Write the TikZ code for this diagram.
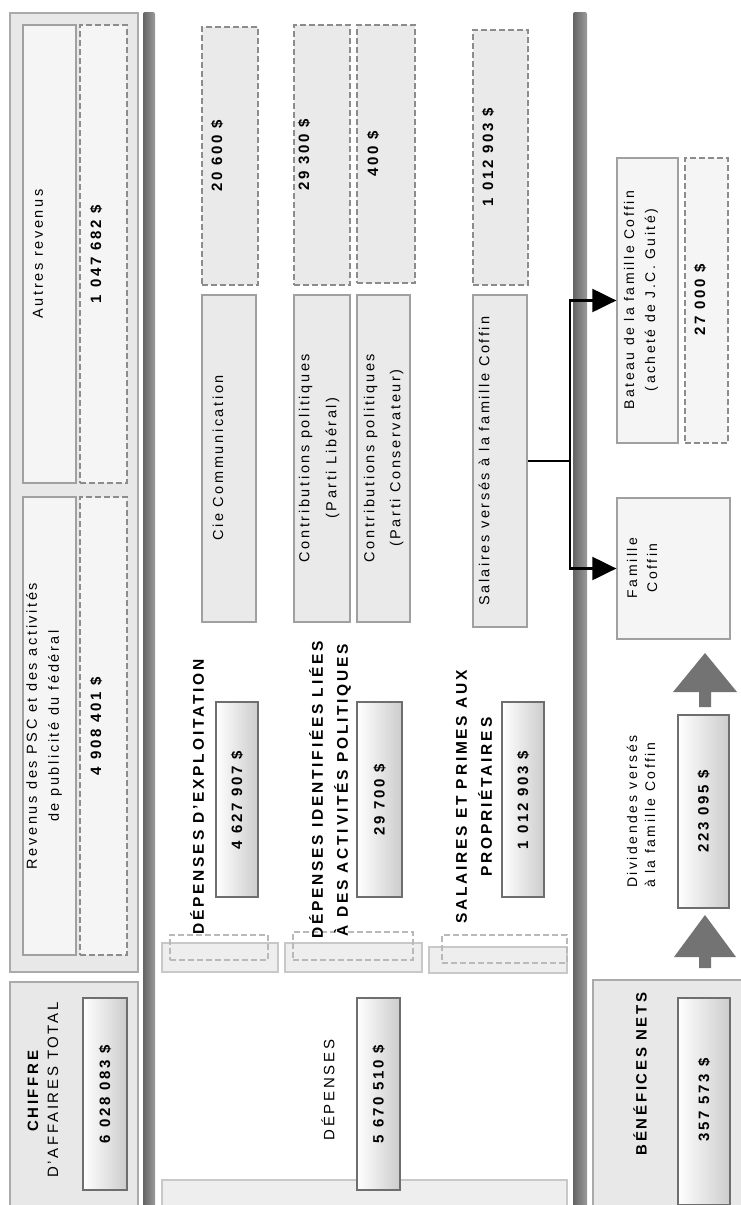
\documentclass[tikz,border=0pt]{standalone}
\usepackage{fontspec}
\setmainfont{Liberation Sans}[LetterSpace=18]
\usetikzlibrary{arrows.meta}
\definecolor{panelfill}{RGB}{232,232,232}
\definecolor{panelline}{RGB}{170,170,170}
\definecolor{boxfill}{RGB}{234,234,234}
\definecolor{boxline}{RGB}{160,160,160}
\definecolor{lightfill}{RGB}{245,245,245}
\definecolor{dashline}{RGB}{140,140,140}
\definecolor{valline}{RGB}{110,110,110}
\definecolor{bardark}{RGB}{100,100,100}
\definecolor{barlight}{RGB}{155,155,155}
\definecolor{arrowgray}{RGB}{115,115,115}
\definecolor{tabfill}{RGB}{238,238,238}
\definecolor{tabline}{RGB}{200,200,200}
\definecolor{tabdashc}{RGB}{185,185,185}
\tikzset{
  panel/.style={draw=panelline, fill=panelfill, line width=1.6pt, inner sep=0pt},
  tbox/.style={draw=boxline, fill=boxfill, line width=1.3pt, inner sep=0pt},
  lbox/.style={draw=boxline, fill=lightfill, line width=1.3pt, inner sep=0pt},
  dbox/.style={draw=dashline, fill=boxfill, line width=2.4pt, dash pattern=on 6pt off 3pt, inner sep=0pt},
  vbox/.style={draw=valline, line width=1.6pt, left color=white, right color=black!20, inner sep=0pt},
  tabbox/.style={draw=tabline, fill=tabfill, line width=1.5pt, inner sep=0pt},
  tabdash/.style={draw=tabdashc, line width=2pt, dash pattern=on 6pt off 3pt, inner sep=0pt},
  txt/.style={rotate=90, font=\fontsize{14.5}{21}\selectfont, align=center, inner sep=0pt},
  head/.style={rotate=90, font=\fontsize{15.5}{25}\selectfont\bfseries, align=center, inner sep=0pt},
  val/.style={rotate=90, font=\fontsize{15}{18}\selectfont\bfseries, inner sep=0pt},
  conn/.style={line width=2.2pt, black},
  big/.style={fill=arrowgray},
}
\begin{document}
\begin{tikzpicture}[x=1pt, y=-1pt]
\useasboundingbox (0,0) rectangle (741,1205);
\fill[white] (0,0) rectangle (741,1205);

% ---- separator bars
\shade[left color=bardark, right color=barlight, rounded corners=2pt] (143,12) rectangle (155,1215);
\shade[left color=bardark, right color=barlight, rounded corners=2pt] (573,12) rectangle (587,1215);

% ---- revenue column
\node[panel, minimum width=128, minimum height=959] (revpanel) at (74,492.5) {};
\node[lbox, minimum width=53, minimum height=458] (autres) at (49.5,254) {};
\node[dbox, fill=lightfill, minimum width=47, minimum height=458] (autresv) at (103.5,254) {};
\node[lbox, minimum width=53, minimum height=458] (psc) at (49.5,726) {};
\node[dbox, fill=lightfill, minimum width=47, minimum height=458] (pscv) at (103.5,726) {};
\node[txt] (autrest) at (38,254) {Autres revenus};
\node[val] (autresvt) at (96,254) {1 047 682 \$};
\node[txt, font=\fontsize{14.5}{22}\selectfont] (psct) at (44,726) {Revenus des PSC et des activités\\de publicité du fédéral};
\node[val] (pscvt) at (96,726) {4 908 401 \$};

% ---- chiffre d'affaires
\node[panel, minimum width=128, minimum height=233] (capanel) at (74,1098.5) {};
\node[vbox, minimum width=44, minimum height=192] (cav) at (105,1094) {};
\node[txt, font=\fontsize{15}{20}\selectfont] (cat) at (43,1090) {\textbf{CHIFFRE}\\D'AFFAIRES TOTAL};
\node[val] (cavt) at (105,1094) {6 028 083 \$};

% ---- depenses
\node[tabbox, minimum width=405, minimum height=35] (depstrip) at (364.5,1197.5) {};
\node[vbox, minimum width=43, minimum height=192] (depv) at (378.5,1094) {};
\node[txt, font=\fontsize{15}{20}\selectfont] (dept) at (328,1090) {DÉPENSES};
\node[val] (depvt) at (378.5,1094) {5 670 510 \$};

% tabs
\node[tabbox, minimum width=116, minimum height=29] (tab1) at (220,957.5) {};
\node[tabdash, minimum width=98, minimum height=25] (tab1d) at (219,947.5) {};
\node[tabbox, minimum width=137, minimum height=29] (tab2) at (353.5,957.5) {};
\node[tabdash, minimum width=120, minimum height=28] (tab2d) at (353,946) {};
\node[tabbox, minimum width=138, minimum height=26] (tab3) at (498,960) {};
\node[tabdash, minimum width=125, minimum height=28] (tab3d) at (504.5,949) {};

% headings and values
\node[head] (h1) at (197,797) {DÉPENSES D'EXPLOITATION};
\node[vbox, minimum width=42, minimum height=195] (v1) at (237,799.5) {};
\node[val] (v1t) at (237,800) {4 627 907 \$};

\node[head] (h2) at (330,790) {DÉPENSES IDENTIFIÉES LIÉES\\À DES ACTIVITÉS POLITIQUES};
\node[vbox, minimum width=45, minimum height=195] (v2) at (379.5,799.5) {};
\node[val] (v2t) at (379.5,800) {29 700 \$};

\node[head] (h3) at (474,797) {SALAIRES ET PRIMES AUX\\PROPRIÉTAIRES};
\node[vbox, minimum width=42, minimum height=195] (v3) at (523,799.5) {};
\node[val] (v3t) at (523,800) {1 012 903 \$};

% detail boxes
\node[tbox, minimum width=54, minimum height=327] (cie) at (229,458.5) {};
\node[dbox, minimum width=56, minimum height=258] (ciev) at (230,156) {};
\node[txt] (ciet) at (218,458) {Cie Communication};
\node[val] (cievt) at (217,156) {20 600 \$};

\node[tbox, minimum width=56, minimum height=327] (lib) at (322,458.5) {};
\node[dbox, minimum width=56, minimum height=260] (libv) at (322,155) {};
\node[txt, font=\fontsize{14.5}{27}\selectfont] (libt) at (319,458) {Contributions politiques\\(Parti Libéral)};
\node[val] (libvt) at (304,155) {29 300 \$};

\node[tbox, minimum width=53, minimum height=327] (cons) at (383.5,458.5) {};
\node[dbox, minimum width=58, minimum height=258] (consv) at (386,154) {};
\node[txt, font=\fontsize{14.5}{26}\selectfont] (const) at (383.5,458) {Contributions politiques\\(Parti Conservateur)};
\node[val] (consvt) at (373,154) {400 \$};

\node[tbox, minimum width=54, minimum height=332] (salfam) at (500,461) {};
\node[dbox, minimum width=55, minimum height=255] (salfamv) at (500.5,157.5) {};
\node[txt] (salfamt) at (484,461) {Salaires versés à la famille Coffin};
\node[val] (salfamvt) at (488,157) {1 012 903 \$};

% ---- right column
\node[lbox, minimum width=61, minimum height=285] (bateau) at (647.5,300.5) {};
\node[dbox, fill=lightfill, minimum width=43, minimum height=285] (bateauv) at (706.5,300.5) {};
\node[txt, font=\fontsize{14}{21}\selectfont] (bateaut) at (641,300) {Bateau de la famille Coffin\\(acheté de J.C. Guité)};
\node[val] (bateauvt) at (700,300) {27 000 \$};

\node[lbox, minimum width=113, minimum height=141] (famille) at (673.5,568.5) {};
\node[txt, font=\fontsize{14}{20}\selectfont] (famillet) at (642,568) {Famille\\Coffin};

\node[txt, font=\fontsize{14}{18}\selectfont, align=left, anchor=west] (divt) at (641,888) {Dividendes versés\\à la famille Coffin};
\node[vbox, minimum width=51, minimum height=193] (divv) at (703.5,811.5) {};
\node[val] (divvt) at (703.5,811.5) {223 095 \$};

\node[panel, minimum width=152, minimum height=235] (benpanel) at (669,1097.5) {};
\node[vbox, minimum width=52, minimum height=207] (benv) at (704,1101.5) {};
\node[txt, font=\fontsize{15}{20}\selectfont\bfseries] (bent) at (640,1074) {BÉNÉFICES NETS};
\node[val] (benvt) at (704,1100) {357 573 \$};

% ---- big gray arrows
\coordinate (a1) at (705,653);
\fill[big] (a1) -- ++(32,39) -- ++(-26,0) -- ++(0,15) -- ++(-12,0) -- ++(0,-15) -- ++(-26,0) -- cycle;
\coordinate (a2) at (705,915);
\fill[big] (a2) -- ++(31,42) -- ++(-25,0) -- ++(0,11) -- ++(-12,0) -- ++(0,-11) -- ++(-25,0) -- cycle;

% ---- connectors
\coordinate (j) at (570,461);
\draw[conn] (salfam.east) -- (j);
\draw[conn, -{Triangle[length=24pt, width=23pt]}] (j) |- (bateau.west);
\draw[conn, -{Triangle[length=24pt, width=23pt]}] (j) |- (famille.west);
\end{tikzpicture}
\end{document}
